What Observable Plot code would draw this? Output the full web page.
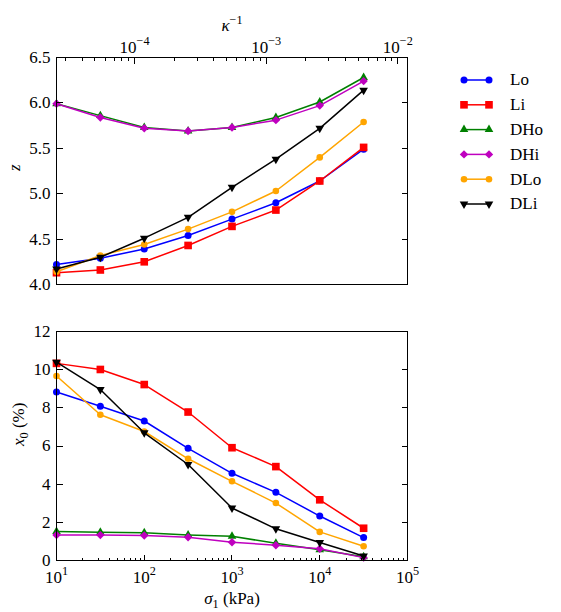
<!DOCTYPE html>
<html><head><meta charset="utf-8">
<script src="https://cdn.jsdelivr.net/npm/d3@7"></script>
<script src="https://cdn.jsdelivr.net/npm/@observablehq/plot@0.6"></script>
<style>
body{margin:0;background:#fff;}
#wrap{position:relative;width:561px;height:612px;background:#fff;}
#wrap svg{display:block;}
#legend{position:absolute;left:440px;top:60px;}
</style></head><body><div id="wrap"></div>
<script>
// ---- data ----
const sigma = [10, 31.6, 100, 316, 1000, 3162, 10000, 31623];
const seriesNames = ["Lo", "Li", "DHo", "DHi", "DLo", "DLi"];
const seriesColors = ["#0000ff", "#ff0000", "#008000", "#bf00bf", "#ffa500", "#000000"];

const zLo  = [4.22, 4.29, 4.39, 4.54, 4.72, 4.90, 5.14, 5.49];
const zLi  = [4.13, 4.16, 4.25, 4.43, 4.64, 4.82, 5.14, 5.51];
const zDHo = [5.99, 5.86, 5.73, 5.69, 5.73, 5.84, 6.01, 6.28];
const zDHi = [5.99, 5.84, 5.72, 5.69, 5.73, 5.81, 5.97, 6.24];
const zDLo = [4.14, 4.32, 4.44, 4.61, 4.80, 5.03, 5.40, 5.79];
const zDLi = [4.17, 4.30, 4.51, 4.74, 5.07, 5.38, 5.72, 6.14];

const x0Lo  = [8.83, 8.08, 7.31, 5.88, 4.57, 3.57, 2.33, 1.20];
const x0Li  = [10.33, 10.01, 9.22, 7.78, 5.91, 4.92, 3.18, 1.69];
const x0DHo = [1.52, 1.48, 1.45, 1.34, 1.27, 0.90, 0.56, 0.20];
const x0DHi = [1.34, 1.33, 1.31, 1.22, 0.96, 0.80, 0.62, 0.15];
const x0DLo = [9.67, 7.64, 6.76, 5.33, 4.15, 3.01, 1.50, 0.75];
const x0DLi = [10.39, 8.96, 6.69, 5.03, 2.75, 1.66, 0.94, 0.24];

const sigmaTicks = [10, 100, 1000, 10000, 100000];
const sigmaTickLabels = ["10^1", "10^2", "10^3", "10^4", "10^5"];
const kappaTicks = [1e-4, 1e-3, 1e-2];
const kappaTickLabels = ["10^−4", "10^−3", "10^−2"];
const zTicks = [4.0, 4.5, 5.0, 5.5, 6.0, 6.5];
const zTickLabels = ["4.0", "4.5", "5.0", "5.5", "6.0", "6.5"];
const x0Ticks = [0, 2, 4, 6, 8, 10, 12];
const x0TickLabels = ["0", "2", "4", "6", "8", "10", "12"];
// kappa^-1 relation to sigma_1: kappa^-1 ∝ sigma^(2/3)
const kappaAtSigma10 = Math.pow(10, -4.593);
const kappaExponent = 2 / 3;
const sigmaOfKappa = k => 10 * Math.pow(k / kappaAtSigma10, 1 / kappaExponent);

// ---- styling ----
const FONT = "'Liberation Serif', 'DejaVu Serif', serif";
const FS = 17;
const W = 561, ML = 56, MR = 154, FW = W - ML - MR;
const X_DOMAIN = [10, 1e5];
const triangleDown = {
  draw(ctx, size) {
    const y = -Math.sqrt(size / (Math.sqrt(3) * 3));
    ctx.moveTo(0, -y * 2);
    ctx.lineTo(-Math.sqrt(3) * y, y);
    ctx.lineTo(Math.sqrt(3) * y, y);
    ctx.closePath();
  }
};
const seriesSymbols = [d3.symbolCircle, d3.symbolSquare, d3.symbolTriangle, d3.symbolDiamond2, d3.symbolCircle, triangleDown];
const seriesR = [3.5, 4.3, 3.2, 3.8, 3.3, 3.2];

const zSeries = [zLo, zLi, zDHo, zDHi, zDLo, zDLi];
const x0Series = [x0Lo, x0Li, x0DHo, x0DHi, x0DLo, x0DLi];

function minorTicks(lo, hi) {
  const out = [];
  for (let e = -8; e <= 8; e++) for (let m = 2; m <= 9; m++) {
    const v = m * Math.pow(10, e);
    if (v > lo * 1.0001 && v < hi * 0.9999) out.push(v);
  }
  return out;
}

function seriesMarks(allSeries) {
  const marks = [];
  allSeries.forEach((vals, i) => {
    const data = sigma.map((s, j) => ({sigma: s, v: vals[j]}));
    marks.push(Plot.line(data, {x: "sigma", y: "v", stroke: seriesColors[i], strokeWidth: 1.5}));
    marks.push(Plot.dot(data, {x: "sigma", y: "v", symbol: seriesSymbols[i], r: seriesR[i], fill: seriesColors[i], stroke: "none"}));
  });
  return marks;
}

// inward ticks, positioned through the plot's own x and y scales (snapped to crisp pixels)
const crisp = v => Math.round(v) + 0.5;
function addTicks(svg, {xMajor, xMinor, xSide, yTicks}) {
  const xs = svg.scale("x"), ys = svg.scale("y");
  const xL = crisp(Math.min(...xs.range)), xR = crisp(Math.max(...xs.range));
  const yT = crisp(Math.min(...ys.range)), yB = crisp(Math.max(...ys.range));
  const g = d3.select(svg).append("g").attr("aria-label", "ticks")
    .attr("stroke", "#000").attr("stroke-width", 1).attr("fill", "none")
    .attr("shape-rendering", "crispEdges");
  const yEdge = xSide === "top" ? yT : yB;
  const dir = xSide === "top" ? 1 : -1;
  for (const [vals, len] of [[xMajor, 6], [xMinor, 3]]) {
    for (const v of vals) {
      const px = crisp(xs.apply(v));
      g.append("line").attr("x1", px).attr("x2", px).attr("y1", yEdge).attr("y2", yEdge + dir * len);
    }
  }
  for (const v of yTicks) {
    const py = crisp(ys.apply(v));
    g.append("line").attr("x1", xL).attr("x2", xL + 6).attr("y1", py).attr("y2", py);
    g.append("line").attr("x1", xR).attr("x2", xR - 6).attr("y1", py).attr("y2", py);
  }
}

const style = {fontFamily: FONT, fontSize: FS + "px", color: "#000", background: "#fff", overflow: "visible"};

// ---- top panel ----
const topH = 300, topMT = 57, topMB = 16;
const kMajorSigma = kappaTicks.map(sigmaOfKappa);
const kMinorSigma = minorTicks(1e-6, 1).map(sigmaOfKappa).filter(s => s > 10 && s < 1e5);
const topPlot = Plot.plot({
  width: W, height: topH, marginLeft: ML, marginRight: MR, marginTop: topMT, marginBottom: topMB,
  style,
  x: {type: "log", domain: X_DOMAIN, axis: null},
  y: {domain: [4, 6.5]},
  marks: [
    ...seriesMarks(zSeries),
    Plot.frame({stroke: "#000", strokeWidth: 1}),
    Plot.axisY({ticks: zTicks, tickSize: 0, tickPadding: 6, label: null,
      tickFormat: d => zTickLabels[zTicks.indexOf(d)]}),
    Plot.text(kMajorSigma, {x: d => d, text: (d, i) => kappaTickLabels[i], frameAnchor: "top", dy: -5, lineAnchor: "bottom", fontSize: FS}),
    Plot.text(["κ^−1"], {frameAnchor: "top", dy: -32, lineAnchor: "middle", fontSize: FS}),
    Plot.text(["z"], {frameAnchor: "left", dx: -42, rotate: -90, lineAnchor: "middle", fontSize: FS})
  ]
});
addTicks(topPlot, {xMajor: kMajorSigma, xMinor: kMinorSigma, xSide: "top", yTicks: zTicks});

// ---- bottom panel ----
const botH = 312, botMT = 31, botMB = 52;
const sMinor = minorTicks(10, 1e5);
const botPlot = Plot.plot({
  width: W, height: botH, marginLeft: ML, marginRight: MR, marginTop: botMT, marginBottom: botMB,
  style,
  x: {type: "log", domain: X_DOMAIN, axis: null},
  y: {domain: [0, 12]},
  marks: [
    ...seriesMarks(x0Series),
    Plot.frame({stroke: "#000", strokeWidth: 1}),
    Plot.axisY({ticks: x0Ticks, tickSize: 0, tickPadding: 6, label: null,
      tickFormat: d => x0TickLabels[x0Ticks.indexOf(d)]}),
    Plot.text(sigmaTicks, {x: d => d, text: (d, i) => sigmaTickLabels[i], frameAnchor: "bottom", dy: 10, lineAnchor: "top", fontSize: FS}),
    Plot.text(["σ_1 (kPa)"], {frameAnchor: "bottom", dy: 38, lineAnchor: "middle", fontSize: FS}),
    Plot.text(["x_0 (%)"], {frameAnchor: "left", dx: -38, rotate: -90, lineAnchor: "middle", fontSize: FS})
  ]
});
addTicks(botPlot, {xMajor: sigmaTicks, xMinor: sMinor, xSide: "bottom", yTicks: x0Ticks});

// ---- rich text (superscripts, subscripts, italic symbols) ----
function richify(svg) {
  d3.select(svg).selectAll("text").each(function() {
    const el = this;
    if (el.querySelector("tspan")) return;
    const s = el.textContent;
    if (!/[\^_κσxz]/.test(s)) return;
    const parts = s.split(/(\^[^\s]+|_[^\s]+)/).filter(p => p);
    el.textContent = "";
    let shift = 0;
    for (const p of parts) {
      let txt = p, target = 0, size = FS;
      if (p[0] === "^") { txt = p.slice(1); target = -0.42 * FS; size = 0.72 * FS; }
      else if (p[0] === "_") { txt = p.slice(1); target = 0.22 * FS; size = 0.72 * FS; }
      const subs = txt.split(/([κσxz])/).filter(q => q);
      let first = true;
      for (const q of subs) {
        const t = d3.select(el).append("tspan").text(q).attr("font-size", size);
        if (first) { t.attr("dy", target - shift); shift = target; first = false; }
        if (/^[κσxz]$/.test(q)) t.attr("font-style", "italic");
      }
    }
  });
}
richify(topPlot);
richify(botPlot);

const wrap = document.getElementById("wrap");
wrap.appendChild(topPlot);
wrap.appendChild(botPlot);

// ---- legend ----
const leg = d3.create("svg").attr("id", "legend").attr("width", 120).attr("height", 160)
  .style("font-family", FONT).style("font-size", FS + "px");
seriesNames.forEach((name, i) => {
  const g = leg.append("g").attr("transform", `translate(0,${20 + i * 24.8})`);
  g.append("line").attr("x1", 24).attr("x2", 49).attr("y1", 0).attr("y2", 0)
    .attr("stroke", seriesColors[i]).attr("stroke-width", 1.5);
  [24, 49].forEach(x => g.append("path")
    .attr("d", d3.symbol(seriesSymbols[i], Math.PI * seriesR[i] * seriesR[i])())
    .attr("transform", `translate(${x},0)`).attr("fill", seriesColors[i]));
  g.append("text").attr("x", 70).attr("y", 0).attr("dy", "0.32em").attr("fill", "#000").text(name);
});
wrap.appendChild(leg.node());
</script>
</body></html>
